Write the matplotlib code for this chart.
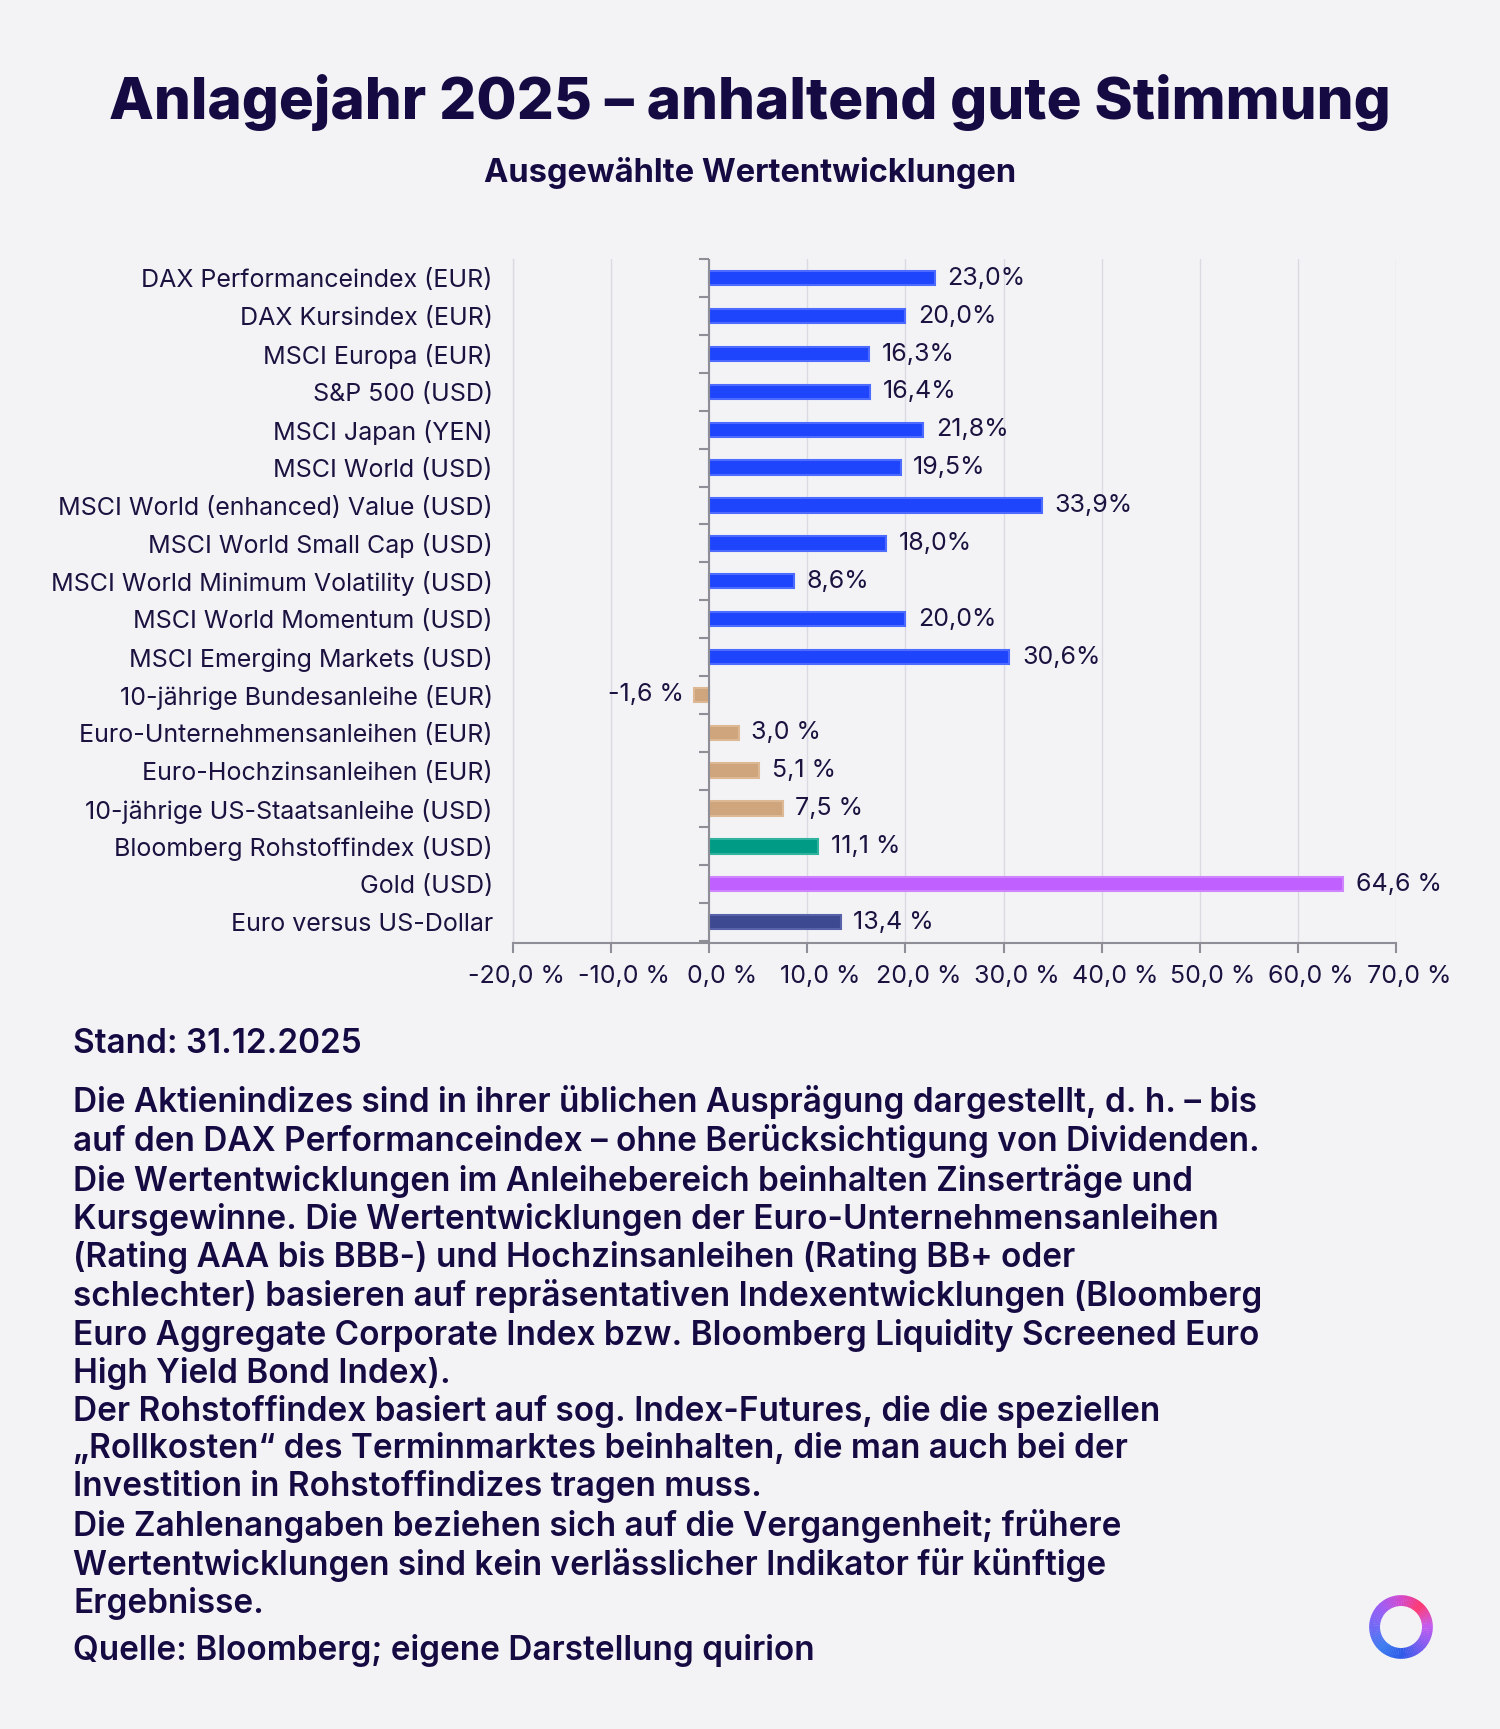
import numpy as np
import matplotlib.pyplot as plt
import matplotlib.transforms as mtransforms
from matplotlib.patches import Wedge
from matplotlib.markers import TICKLEFT
from matplotlib.colors import LinearSegmentedColormap

plt.rcParams['font.family'] = ['Inter', 'DejaVu Sans']

# data
categories = [
    'DAX Performanceindex (EUR)',
    'DAX Kursindex (EUR)',
    'MSCI Europa (EUR)',
    'S&P 500 (USD)',
    'MSCI Japan (YEN)',
    'MSCI World (USD)',
    'MSCI World (enhanced) Value (USD)',
    'MSCI World Small Cap (USD)',
    'MSCI World Minimum Volatility (USD)',
    'MSCI World Momentum (USD)',
    'MSCI Emerging Markets (USD)',
    '10-jährige Bundesanleihe (EUR)',
    'Euro-Unternehmensanleihen (EUR)',
    'Euro-Hochzinsanleihen (EUR)',
    '10-jährige US-Staatsanleihe (USD)',
    'Bloomberg Rohstoffindex (USD)',
    'Gold (USD)',
    'Euro versus US-Dollar',
]
values = [23.0, 20.0, 16.3, 16.4, 21.8, 19.5, 33.9, 18.0, 8.6, 20.0, 30.6,
          -1.6, 3.0, 5.1, 7.5, 11.1, 64.6, 13.4]
groups = ['equity'] * 11 + ['bond'] * 4 + ['commodity', 'gold', 'fx']
group_colors = {
    'equity': ('#1f45fc', '#4d6bff'),
    'bond': ('#cfa57d', '#dcb894'),
    'commodity': ('#009b84', '#2fb29e'),
    'gold': ('#c060ff', '#cf85ff'),
    'fx': ('#3d4a92', '#5862a8'),
}
xticks = list(range(-20, 71, 10))

title = 'Anlagejahr 2025 – anhaltend gute Stimmung'
subtitle = 'Ausgewählte Wertentwicklungen'
stand = 'Stand: 31.12.2025'
notes = (
    'Die Aktienindizes sind in ihrer üblichen Ausprägung dargestellt, d. h. – bis\n'
    'auf den DAX Performanceindex – ohne Berücksichtigung von Dividenden.\n'
    'Die Wertentwicklungen im Anleihebereich beinhalten Zinserträge und\n'
    'Kursgewinne. Die Wertentwicklungen der Euro-Unternehmensanleihen\n'
    '(Rating AAA bis BBB-) und Hochzinsanleihen (Rating BB+ oder\n'
    'schlechter) basieren auf repräsentativen Indexentwicklungen (Bloomberg\n'
    'Euro Aggregate Corporate Index bzw. Bloomberg Liquidity Screened Euro\n'
    'High Yield Bond Index).\n'
    'Der Rohstoffindex basiert auf sog. Index-Futures, die die speziellen\n'
    '„Rollkosten“ des Terminmarktes beinhalten, die man auch bei der\n'
    'Investition in Rohstoffindizes tragen muss.\n'
    'Die Zahlenangaben beziehen sich auf die Vergangenheit; frühere\n'
    'Wertentwicklungen sind kein verlässlicher Indikator für künftige\n'
    'Ergebnisse.'
)
source = 'Quelle: Bloomberg; eigene Darstellung quirion'

BG = '#f3f3f6'
TXT = '#1b1240'
TITLE_C = '#160a42'
FS = 18

fig = plt.figure(figsize=(15, 17.29), dpi=100, facecolor=BG)
fig.text(0.5, 0.9405, title, ha='center', va='center', fontsize=42,
         fontweight='heavy', color=TITLE_C)
fig.text(0.5, 0.900, subtitle, ha='center', va='center', fontsize=23.5,
         fontweight='bold', color=TITLE_C)

ax = fig.add_axes([0.342, 0.4546, 0.9307 - 0.342, 0.850 - 0.4546])
ax.set_facecolor(BG)

y = np.arange(len(categories))
face = [group_colors[g][0] for g in groups]
edge = [group_colors[g][1] for g in groups]
ax.barh(y, values, height=0.38, color=face, edgecolor=edge, linewidth=1.5, zorder=3)

for yi, v, g in zip(y, values, groups):
    sep = '' if g == 'equity' else ' '
    lab = f'{v:.1f}'.replace('.', ',') + sep + '%'
    if v >= 0:
        ax.annotate(lab, (v, yi), xytext=(9, 0), textcoords='offset points',
                    ha='left', va='center', fontsize=FS, color=TXT)
    else:
        ax.annotate(lab, (v, yi), xytext=(-7, 0), textcoords='offset points',
                    ha='right', va='center', fontsize=FS, color=TXT)

ax.set_xlim(-20, 70)
ax.set_ylim(len(categories) - 0.45, -0.5)
ax.set_xticks(xticks)
ax.set_xticklabels([f'{t:.1f}'.replace('.', ',') + ' %' for t in xticks])
ax.set_yticks(y)
ax.set_yticklabels(categories)
ax.tick_params(axis='y', length=0, pad=14.5, labelsize=FS, labelcolor=TXT)
ax.tick_params(axis='x', length=7, width=1.5, color='#8e8e96', pad=9,
               labelsize=FS, labelcolor=TXT)

# x tick labels sit a little right of their ticks in the reference
for i, lbl in enumerate(ax.get_xticklabels()):
    dx = 3 if i == 0 else 13
    lbl.set_transform(lbl.get_transform() +
                      mtransforms.ScaledTranslation(dx / 100, 0, fig.dpi_scale_trans))

ax.grid(axis='x', color='#dadae2', linewidth=1, zorder=0)
for s in ['top', 'right']:
    ax.spines[s].set_visible(False)
ax.spines['left'].set_color('#dadae2')
ax.spines['left'].set_linewidth(1)
ax.spines['bottom'].set_color('#8e8e96')
ax.spines['bottom'].set_linewidth(1.5)

# zero line with category boundary ticks
ax.axvline(0, color='#8e8e96', linewidth=1.5, zorder=4)
bounds = np.arange(-0.5, len(categories), 1.0)
ax.plot(np.zeros(len(bounds)), bounds, ls='none', marker=TICKLEFT,
        ms=7, mew=1.5, color='#8e8e96', zorder=4, clip_on=False)

# footer
fig.text(0.0487, 0.3962, stand, ha='left', va='center', fontsize=24,
         fontweight='semibold', color=TITLE_C)
fig.text(0.0487, 0.3726, notes, ha='left', va='top', fontsize=24,
         fontweight='semibold', color=TITLE_C, linespacing=1.20)
fig.text(0.0487, 0.0455, source, ha='left', va='center', fontsize=24,
         fontweight='semibold', color=TITLE_C)

# logo ring
lax = fig.add_axes([(1401 - 35) / 1500, 1 - (1627 + 35) / 1729, 70 / 1500, 70 / 1729])
lax.set_xlim(-1.1, 1.1)
lax.set_ylim(-1.1, 1.1)
lax.set_aspect('equal')
lax.axis('off')
ring_cmap = LinearSegmentedColormap.from_list('ring', [
    '#c45cf0', '#ff3870', '#d04ad0', '#9a5cf5', '#6f6af5',
    '#3b7cf0', '#2d5ae8', '#7a5cf0', '#c45cf0'])
n_seg = 90
for k in range(n_seg):
    a0 = 360 * k / n_seg
    lax.add_patch(Wedge((0, 0), 1.0, a0, a0 + 360 / n_seg + 0.8, width=0.34,
                        color=ring_cmap(k / n_seg), linewidth=0))

fig.savefig('out.png', dpi=100, facecolor=BG)
